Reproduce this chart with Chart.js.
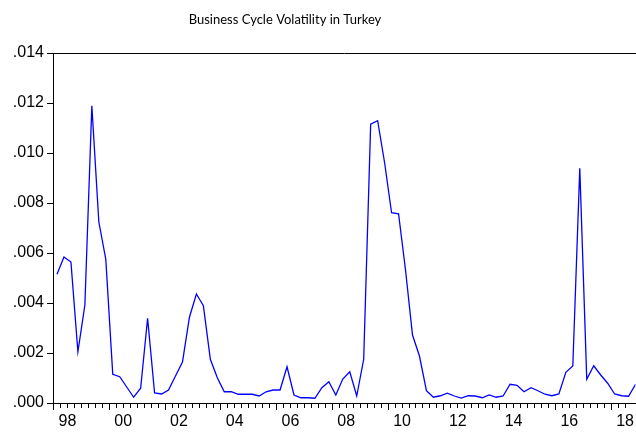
<!DOCTYPE html>
<html>
<head>
<meta charset="utf-8">
<script src="https://cdn.jsdelivr.net/npm/chart.js@4.4.0/dist/chart.umd.min.js"></script>
<style>
  html, body { margin: 0; padding: 0; background: #fff; }
  canvas { display: block; }
</style>
</head>
<body>
<canvas id="chart" width="636" height="433"></canvas>
<script>
// Quarterly volatility, 1998Q1 - 2018Q4
const chartTitle = 'Business Cycle Volatility in Turkey';

const quarters = [];
for (let y = 1998; y <= 2018; y++)
	for (let q = 1; q <= 4; q++)
		quarters.push(y + 'Q' + q);

const volatility = [
	0.00515, 0.00584, 0.00564, 0.00205, 0.00392, 0.01189, 0.00725, 0.00575,
	0.00115, 0.00105, 0.00064, 0.00023, 0.00059, 0.00339, 0.00040, 0.00036,
	0.00052, 0.00108, 0.00164, 0.00343, 0.00436, 0.00389, 0.00175, 0.00101,
	0.00045, 0.00045, 0.00035, 0.00035, 0.00035, 0.00028, 0.00045, 0.00052,
	0.00052, 0.00145, 0.00032, 0.00021, 0.00021, 0.00019, 0.00061, 0.00085,
	0.00032, 0.00096, 0.00125, 0.00028, 0.00175, 0.01115, 0.01129, 0.00961,
	0.00761, 0.00757, 0.00532, 0.00272, 0.00188, 0.00049, 0.00023, 0.00029,
	0.00039, 0.00028, 0.00020, 0.00029, 0.00028, 0.00021, 0.00032, 0.00023,
	0.00028, 0.00075, 0.00071, 0.00045, 0.00061, 0.00049, 0.00035, 0.00029,
	0.00036, 0.00123, 0.00148, 0.00939, 0.00095, 0.00149, 0.00112, 0.00079,
	0.00036, 0.00029, 0.00027, 0.00075
];

const yearLabels = ['98', '00', '02', '04', '06', '08', '10', '12', '14', '16', '18'];
const yTicks = [0, 0.002, 0.004, 0.006, 0.008, 0.010, 0.012, 0.014];
const yTickLabels = ['.000', '.002', '.004', '.006', '.008', '.010', '.012', '.014'];

const axisFont = {family: 'Liberation Sans', size: 16};

// tick marks sit between quarters; labels mid-year of every other year
const boundaries = [];
for (let i = 0; i < quarters.length - 1; i++)
	boundaries.push(i - 0.5);

const isMajor = v => (v + 0.5) % 8 === 0;
const labelFor = v => {
	let k = (v - 1.5) / 8;
	return Number.isInteger(k) ? yearLabels[k] : '';
};

const titlePlugin = {
	id: 'evTitle',
	afterDraw(chart) {
		const ctx = chart.ctx;
		ctx.save();
		ctx.font = '13px Lato';
		ctx.fillStyle = '#000';
		ctx.textAlign = 'center';
		ctx.textBaseline = 'middle';
		ctx.fillText(chartTitle, 285, 20);
		ctx.restore();
	}
};

new Chart(document.getElementById('chart'), {
	type: 'line',
	data: {
		datasets: [{
			data: volatility.map((v, i) => ({x: i, y: v})),
			borderColor: '#0000ff',
			borderWidth: 1.3,
			pointRadius: 0,
			tension: 0,
			fill: false,
		}]
	},
	options: {
		responsive: false,
		animation: false,
		devicePixelRatio: 1,
		layout: {padding: {top: 53, left: 0, right: 0, bottom: 0}},
		plugins: {
			legend: {display: false},
			title: {display: false},
			tooltip: {enabled: false},
		},
		scales: {
			x: {
				type: 'linear',
				min: -0.573,
				max: quarters.length - 1,
				afterBuildTicks: s => { s.ticks = boundaries.map(v => ({value: v})); },
				afterFit: s => { s.height = 30; },
				ticks: {
					autoSkip: false,
					maxRotation: 0,
					padding: 2,
					color: '#000',
					font: axisFont,
					callback: v => labelFor(v),
				},
				grid: {
					drawOnChartArea: false,
					tickLength: 7,
					color: '#000',
					tickBorderDash: c => isMajor(c.tick.value) ? [] : [4, 20],
				},
				border: {color: '#000', width: 1},
			},
			xTop: {
				type: 'linear',
				position: 'top',
				min: 0,
				max: 1,
				ticks: {display: false},
				grid: {display: false, drawTicks: false},
				border: {display: true, color: '#000', width: 1},
				afterFit: s => { s.height = 0; },
			},
			y: {
				min: 0,
				max: 0.014,
				afterBuildTicks: s => { s.ticks = yTicks.map(v => ({value: v})); },
				afterFit: s => { s.width = 53; },
				ticks: {
					padding: 3,
					color: '#000',
					font: axisFont,
					callback: (v, i) => yTickLabels[i],
				},
				grid: {
					drawOnChartArea: false,
					tickLength: 6,
					color: '#000',
				},
				border: {color: '#000', width: 1},
			}
		}
	},
	plugins: [titlePlugin]
});
</script>
</body>
</html>
